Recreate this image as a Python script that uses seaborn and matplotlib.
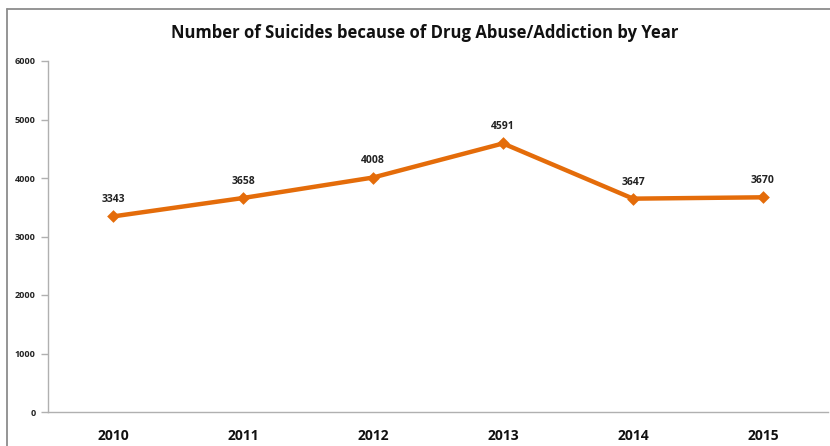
import matplotlib
matplotlib.use("Agg")
import matplotlib.pyplot as plt
import seaborn as sns
import pandas as pd
import numpy as np
from matplotlib.lines import Line2D

years = ["2010", "2011", "2012", "2013", "2014", "2015"]
suicides = [3343, 3658, 4008, 4591, 3647, 3670]
yticks = [0, 1000, 2000, 3000, 4000, 5000, 6000]
title = "Number of Suicides because of Drug Abuse/Addiction by Year"

sns.set_theme(style="white")
plt.rcParams['font.family'] = ['Open Sans', 'DejaVu Sans']

df = pd.DataFrame({"Year": years, "Suicides": suicides})

fig = plt.figure(figsize=(8.3, 4.46), dpi=100)
ax = fig.add_axes([48/830, 1-412/446, 780/830, 351/446])

orange = "#E46C0A"
sns.pointplot(data=df, x="Year", y="Suicides", ax=ax, color=orange,
              markers="D", markersize=4.5, linewidth=3.2, errorbar=None)

ax.set_ylim(0, 6000)
ax.set_xlim(-0.5, len(years) - 0.5)
ax.set_yticks(yticks)
ax.set_yticklabels([str(v) for v in yticks], fontsize=6.5, fontweight="bold", color="#222222")
ax.set_xticks(range(len(years)))
ax.set_xticklabels(years, fontsize=10, fontweight="bold", color="#111111")
ax.set_xticks(np.arange(-0.5, len(years), 1.0), minor=True)
ax.tick_params(axis="x", which="major", length=0, pad=12)
ax.tick_params(axis="x", which="minor", length=5, direction="out", color="#b0b0b0", width=1)
ax.tick_params(axis="y", length=5, direction="out", color="#b0b0b0", width=1, pad=4, left=True)
ax.set_xlabel("")
ax.set_ylabel("")

for s in ["top", "right"]:
    ax.spines[s].set_visible(False)
for s in ["left", "bottom"]:
    ax.spines[s].set_color("#b0b0b0")
    ax.spines[s].set_linewidth(1)

for i, v in enumerate(suicides):
    ax.annotate(str(v), (i, v), xytext=(0, 8), textcoords="offset points",
                ha="center", va="bottom", fontsize=7.5, fontweight="bold", color="#222222")

fig.text(425/830, 1-33/446, title, ha="center", va="center",
         fontsize=12, fontweight="bold", color="#111111")

top_y = 1 - 9/446
left_x = 7/830
fig.add_artist(Line2D([left_x, 1.0], [top_y, top_y], transform=fig.transFigure,
                      color="#8c8c8c", linewidth=1.3))
fig.add_artist(Line2D([left_x, left_x], [0, top_y], transform=fig.transFigure,
                      color="#8c8c8c", linewidth=1.3))

fig.savefig("out.png", dpi=100)
